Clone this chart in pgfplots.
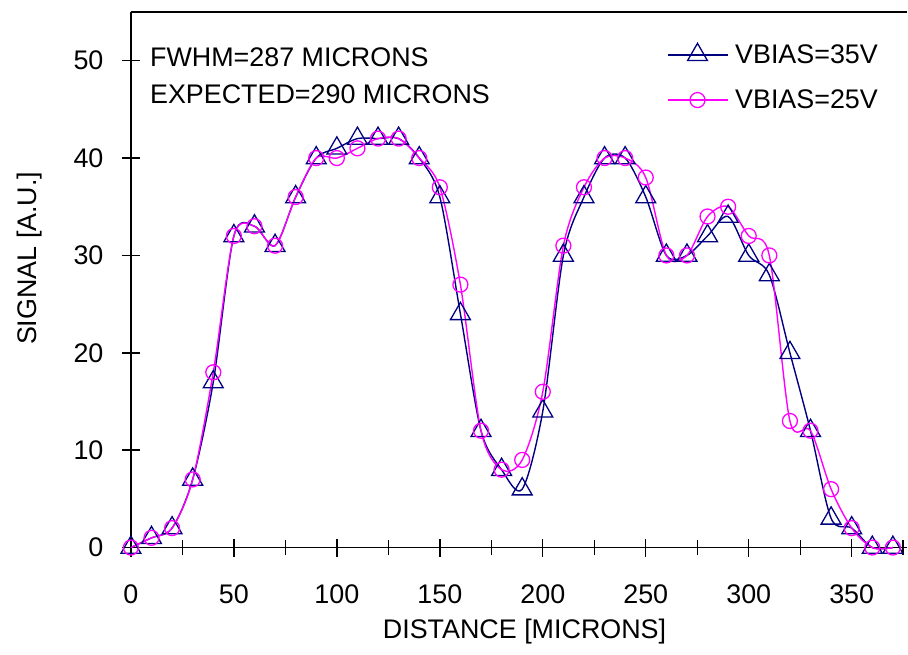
\documentclass[border=0pt]{standalone}
\usepackage{pgfplots}
\pgfplotsset{compat=1.18}
\usepackage{fontspec}
\setmainfont{Liberation Sans}
\definecolor{vnavy}{RGB}{0,0,128}
\definecolor{vmag}{RGB}{255,0,255}
\newcommand{\chartfont}{\fontsize{27}{32}\selectfont}
\begin{document}
\begin{tikzpicture}
\begin{axis}[
  name=ax,
  at={(0,0)}, anchor=south west,
  scale only axis,
  width=777bp, height=536bp,
  xmin=0, xmax=377, ymin=0, ymax=55,
  axis x line*=box, axis y line*=left,
  xtick={0,50,...,350}, ytick={0,10,...,50},
  minor xtick={25,75,...,375},
  xtick pos=left, ytick pos=left,
  tick align=center,
  major tick length=18bp, minor tick length=15bp,
  axis line style={black, line width=1.4bp},
  tick style={black, line width=1.4bp},
  /pgf/number format/assume math mode=true,
  tick label style={font=\chartfont},
  xticklabel style={yshift=-25bp},
  yticklabel style={xshift=-15bp},
  xlabel={DISTANCE [MICRONS]},
  ylabel={SIGNAL [A.U.]},
  every axis x label/.style={at={(rel axis cs:0.507,-0.157)}, anchor=center, font=\chartfont},
  every axis y label/.style={at={(rel axis cs:-0.13,0.54)}, rotate=90, anchor=center, font=\chartfont},
  clip=false,
  legend style={at={(0.69,0.943)}, anchor=north west, draw=none, fill=none,
    font=\chartfont, inner sep=0pt, row sep=21bp, column sep=5bp},
  legend cell align=left,
  legend image code/.code={\draw[mark repeat=2,mark phase=2] plot coordinates {(0bp,0bp) (30bp,0bp) (60bp,0bp)};},
]
\addplot[vnavy, line width=1.4bp, smooth, tension=0.5, mark=triangle, mark size=11.5bp,
  mark options={solid, line width=1.3bp}] coordinates {
(0,0) (10,1) (20,2) (30,7) (40,17) (50,32) (60,33) (70,31) (80,36) (90,40)
(100,41) (110,42) (120,42) (130,42) (140,40) (150,36) (160,24) (170,12) (180,8) (190,6)
(200,14) (210,30) (220,36) (230,40) (240,40) (250,36) (260,30) (270,30) (280,32) (290,34)
(300,30) (310,28) (320,20) (330,12) (340,3) (350,2) (360,0) (370,0)
};
\addlegendentry{VBIAS=35V}
\addplot[vmag, line width=1.4bp, smooth, tension=0.5, mark=o, mark size=7.5bp,
  mark options={solid, line width=1.3bp}] coordinates {
(0,0) (10,1) (20,2) (30,7) (40,18) (50,32) (60,33) (70,31) (80,36) (90,40)
(100,40) (110,41) (120,42) (130,42) (140,40) (150,37) (160,27) (170,12) (180,8) (190,9)
(200,16) (210,31) (220,37) (230,40) (240,40) (250,38) (260,30) (270,30) (280,34) (290,35)
(300,32) (310,30) (320,13) (330,12) (340,6) (350,2) (360,0) (370,0)
};
\addlegendentry{VBIAS=25V}
\node[anchor=base west, inner sep=0pt, font=\chartfont] at (rel axis cs:0.0245,0.899) {FWHM=287 MICRONS};
\node[anchor=base west, inner sep=0pt, font=\chartfont] at (rel axis cs:0.0245,0.830) {EXPECTED=290 MICRONS};
\end{axis}
\path[use as bounding box] ([shift={(-131bp,-107bp)}]ax.south west) rectangle ([shift={(777bp,548bp)}]ax.south west);
\end{tikzpicture}
\end{document}
